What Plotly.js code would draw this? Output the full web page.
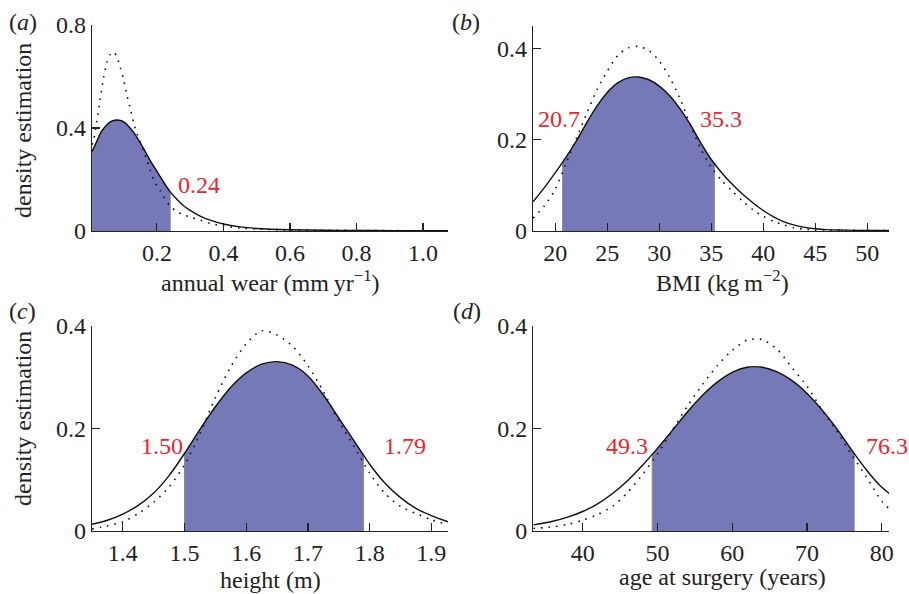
<!DOCTYPE html>
<html>
<head>
<meta charset="utf-8">
<script src="https://cdn.plot.ly/plotly-3.0.1.min.js"></script>
<style>html,body{margin:0;padding:0;background:#fff}#chart{width:909px;height:594px}</style>
</head>
<body>
<div id="chart"></div>
<script>
// ---------- data ----------
// (a) annual wear
const wearX = [0.005,0.01,0.02,0.03,0.04,0.05,0.06,0.07,0.08,0.09,0.10,0.11,0.12,0.13,0.14,0.15,0.16,0.17,0.18,0.19,0.20,0.21,0.22,0.23,0.24,0.26,0.28,0.30,0.33,0.36,0.40,0.45,0.50,0.60,0.70,0.80,0.90,1.00,1.075];
const wearFit = [0.308,0.322,0.350,0.379,0.398,0.413,0.424,0.429,0.431,0.429,0.424,0.414,0.399,0.383,0.364,0.343,0.320,0.297,0.273,0.252,0.232,0.211,0.190,0.170,0.152,0.123,0.098,0.080,0.058,0.042,0.027,0.016,0.010,0.005,0.003,0.002,0.0015,0.001,0.001];
const wearKde = [0.335,0.353,0.430,0.515,0.597,0.655,0.686,0.695,0.676,0.635,0.587,0.527,0.477,0.420,0.380,0.345,0.310,0.275,0.235,0.200,0.175,0.157,0.135,0.114,0.096,0.075,0.063,0.054,0.042,0.030,0.019,0.012,0.008,0.004,0.003,0.002,0.0015,0.001,0.001];
const wearBounds = [0.005, 0.24];
const wearLabels = ["0.24"];
const wearTickVals = [0.2,0.4,0.6,0.8,1.0];
const wearTickText = ["0.2","0.4","0.6","0.8","1.0"];
const wearYTicks = [0,0.4,0.8];

// (b) BMI
const bmiX = [17.85,19,20,21,22,23,24,25,26,27,28,29,30,31,32,33,34,35,36,37,38,39,40,41,42,43,44,45,46,48,50,52.1];
const bmiFit = [0.064,0.097,0.128,0.161,0.197,0.237,0.274,0.304,0.325,0.336,0.338,0.332,0.318,0.297,0.268,0.233,0.193,0.157,0.128,0.103,0.081,0.062,0.045,0.031,0.020,0.013,0.008,0.005,0.003,0.002,0.001,0.001];
const bmiKde = [0.028,0.057,0.092,0.147,0.202,0.257,0.310,0.351,0.385,0.402,0.405,0.396,0.373,0.337,0.290,0.232,0.180,0.140,0.111,0.088,0.066,0.047,0.032,0.021,0.013,0.007,0.004,0.003,0.002,0.0015,0.001,0.001];
const bmiBounds = [20.7, 35.3];
const bmiLabels = ["20.7","35.3"];
const bmiTickVals = [20,25,30,35,40,45,50];
const bmiTickText = ["20","25","30","35","40","45","50"];
const bmiYTicks = [0,0.2,0.4];

// (c) height
const htX = [1.35,1.375,1.4,1.425,1.45,1.475,1.5,1.525,1.55,1.575,1.6,1.625,1.65,1.675,1.7,1.725,1.75,1.775,1.8,1.825,1.85,1.875,1.9,1.927];
const htFit = [0.013,0.021,0.033,0.050,0.074,0.108,0.151,0.198,0.242,0.280,0.308,0.325,0.330,0.323,0.302,0.265,0.220,0.175,0.130,0.093,0.065,0.044,0.030,0.018];
const htKde = [0.004,0.010,0.018,0.034,0.056,0.086,0.129,0.190,0.260,0.320,0.365,0.390,0.382,0.360,0.322,0.272,0.214,0.164,0.113,0.073,0.048,0.034,0.022,0.012];
const htBounds = [1.50, 1.79];
const htLabels = ["1.50","1.79"];
const htTickVals = [1.4,1.5,1.6,1.7,1.8,1.9];
const htTickText = ["1.4","1.5","1.6","1.7","1.8","1.9"];
const htYTicks = [0,0.2,0.4];

// (d) age at surgery
const ageX = [33.4,36,38,40,42,44,46,48,50,52,54,56,58,60,62,64,66,68,70,72,74,76,78,80,81];
const ageFit = [0.012,0.019,0.027,0.038,0.053,0.073,0.098,0.128,0.161,0.196,0.232,0.264,0.290,0.309,0.319,0.319,0.310,0.293,0.268,0.236,0.199,0.157,0.118,0.085,0.073];
const ageKde = [0.005,0.008,0.013,0.021,0.032,0.048,0.075,0.110,0.150,0.197,0.243,0.285,0.322,0.352,0.372,0.373,0.354,0.318,0.282,0.236,0.194,0.148,0.104,0.058,0.043];
const ageBounds = [49.3, 76.3];
const ageLabels = ["49.3","76.3"];
const ageTickVals = [40,50,60,70,80];
const ageTickText = ["40","50","60","70","80"];
const ageYTicks = [0,0.2,0.4];

const panelLetters = ["a","b","c","d"];
const xTitles = ["annual wear (mm\u2009yr<sup>\u22121</sup>)","BMI (kg\u2009m<sup>\u22122</sup>)","height (m)","age at surgery (years)"];
const yTitle = "density estimation";

// ---------- helpers ----------
function interp(xs, ys, x){
  for(let i=0;i<xs.length-1;i++){
    if(x>=xs[i] && x<=xs[i+1]){
      const t=(x-xs[i])/(xs[i+1]-xs[i]);
      return ys[i]+t*(ys[i+1]-ys[i]);
    }
  }
  return ys[ys.length-1];
}
function shade(xs, ys, lo, hi){
  const px=[lo,lo], py=[0,interp(xs,ys,lo)];
  for(let i=0;i<xs.length;i++){ if(xs[i]>lo && xs[i]<hi){px.push(xs[i]);py.push(ys[i]);} }
  px.push(hi,hi); py.push(interp(xs,ys,hi),0);
  return {x:px,y:py};
}

const FONT = "Liberation Serif, Times New Roman, serif";
const FS = 24;
const RED = "#e8262d";
const FILL = "#7678b8";

const panels = [
  {x:wearX, fit:wearFit, kde:wearKde, b:wearBounds, tv:wearTickVals, tt:wearTickText, yt:wearYTicks, xr:[0.005,1.075], yr:[0,0.8]},
  {x:bmiX, fit:bmiFit, kde:bmiKde, b:bmiBounds, tv:bmiTickVals, tt:bmiTickText, yt:bmiYTicks, xr:[17.85,52.1], yr:[0,0.45]},
  {x:htX, fit:htFit, kde:htKde, b:htBounds, tv:htTickVals, tt:htTickText, yt:htYTicks, xr:[1.35,1.927], yr:[0,0.4]},
  {x:ageX, fit:ageFit, kde:ageKde, b:ageBounds, tv:ageTickVals, tt:ageTickText, yt:ageYTicks, xr:[33.4,81], yr:[0,0.4]}
];

// pixel geometry of the four plot areas [left, right, top, bottom]
const W=909, H=594;
const boxes = [[92,448,25,231],[533,889,26,231],[92,448,325.7,531],[533.3,889.3,325.7,531]];

const traces=[];
const layout={
  width:W, height:H, margin:{l:0,r:0,t:0,b:0},
  paper_bgcolor:"#fff", plot_bgcolor:"rgba(0,0,0,0)",
  showlegend:false, font:{family:FONT, size:FS, color:"#222"},
  annotations:[]
};

panels.forEach((p,i)=>{
  const n = i===0 ? "" : String(i+1);
  const xa="x"+n, ya="y"+n;
  const s = shade(p.x,p.fit,p.b[0],p.b[1]);
  traces.push({x:s.x,y:s.y,xaxis:xa,yaxis:ya,type:"scatter",mode:"lines",fill:"toself",fillcolor:FILL,line:{color:"#8a8a8a",width:1},hoverinfo:"skip"});
  traces.push({x:p.x,y:p.kde,xaxis:xa,yaxis:ya,type:"scatter",mode:"lines",line:{color:"#111",width:1.6,dash:"1.6px,6px",shape:"spline",smoothing:0.8}});
  traces.push({x:p.x,y:p.fit,xaxis:xa,yaxis:ya,type:"scatter",mode:"lines",line:{color:"#111",width:1.4,shape:"spline",smoothing:0.8}});
  const bx=boxes[i];
  const common={showline:true,linecolor:"#222",linewidth:1.3,ticks:"inside",ticklen:8,tickwidth:1.2,tickcolor:"#222",
    showgrid:false,zeroline:false,tickfont:{family:FONT,size:FS,color:"#222"},fixedrange:true};
  layout["xaxis"+n]=Object.assign({},common,{domain:[bx[0]/W,bx[1]/W],anchor:ya,range:p.xr,tickmode:"array",tickvals:p.tv,ticktext:p.tt});
  layout["yaxis"+n]=Object.assign({},common,{domain:[(H-bx[3])/H,(H-bx[2])/H],anchor:xa,range:p.yr,tickmode:"array",tickvals:p.yt,ticktext:p.yt.map(v=>String(v))});
});

// panel letters
const letterPos=[[23,22],[466,22],[22,311],[467,311]];
letterPos.forEach((q,i)=>{
  layout.annotations.push({xref:"paper",yref:"paper",x:q[0]/W,y:1-q[1]/H,xanchor:"center",yanchor:"middle",showarrow:false,
    text:"(<i>"+panelLetters[i]+"</i>)",font:{family:FONT,size:FS,color:"#222"}});
});
// x titles
const xtPos=[[270,281],[722,281],[270,580],[722,577]];
xtPos.forEach((q,i)=>{
  layout.annotations.push({xref:"paper",yref:"paper",x:q[0]/W,y:1-q[1]/H,xanchor:"center",yanchor:"middle",showarrow:false,
    text:xTitles[i],font:{family:FONT,size:FS,color:"#222"}});
});
// y titles
[[23,131],[23,419]].forEach(q=>{
  layout.annotations.push({xref:"paper",yref:"paper",x:q[0]/W,y:1-q[1]/H,xanchor:"center",yanchor:"middle",showarrow:false,textangle:-90,
    text:yTitle,font:{family:FONT,size:FS,color:"#222"}});
});
// red bound labels
const redLabels=[
  {t:wearLabels[0],x:176,y:185,a:"left"},
  {t:bmiLabels[0],x:582,y:119,a:"right"},{t:bmiLabels[1],x:698,y:119,a:"left"},
  {t:htLabels[0],x:185,y:446,a:"right"},{t:htLabels[1],x:382,y:446,a:"left"},
  {t:ageLabels[0],x:650,y:446,a:"right"},{t:ageLabels[1],x:864,y:446,a:"left"}
];
redLabels.forEach(r=>{
  layout.annotations.push({xref:"paper",yref:"paper",x:r.x/W,y:1-r.y/H,xanchor:r.a,yanchor:"middle",showarrow:false,
    text:r.t,font:{family:FONT,size:FS,color:RED}});
});

Plotly.newPlot("chart",traces,layout,{displayModeBar:false,staticPlot:true});
</script>
</body>
</html>
